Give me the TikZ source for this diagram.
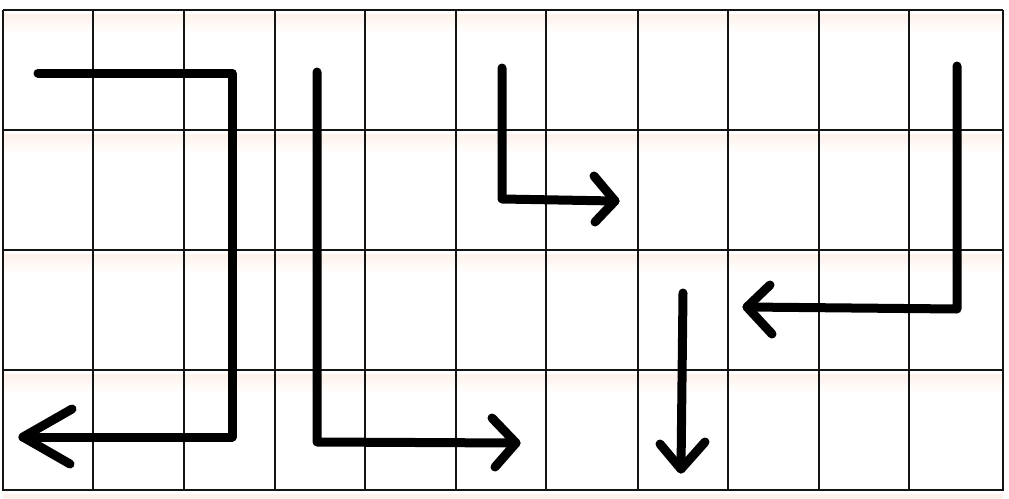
\documentclass[tikz,border=0pt]{standalone}
\usetikzlibrary{calc}
\definecolor{peach}{RGB}{253,236,225}
\definecolor{gridc}{RGB}{20,20,20}
\tikzset{
  gridline/.style={draw=gridc, line width=1.8pt},
  band/.style={fill=peach, draw=none},
  thick arrow/.style={draw=black, line width=9pt, line cap=round, line join=round},
}
\begin{document}
\begin{tikzpicture}[x=1pt,y=-1pt]
\useasboundingbox (0,0) rectangle (1009,498);
\fill[white] (0,0) rectangle (1009,498);
% faint peach bands below horizontal grid lines
\foreach \y in {10,130,250,370,490} {
  \shade[top color=peach, bottom color=white, opacity=0.7] (3,\y+4) rectangle (1003,\y+22);
}
% grid
\foreach \x in {3,93,184,275,365,456,546,638,728,819,909,1003} {
  \draw[gridline] (\x,10) -- (\x,491);
}
\foreach \y in {10,130,250,370,490} {
  \draw[gridline] (3,\y) -- (1003,\y);
}
% arrow 1
\coordinate (a1s) at (38,73);
\coordinate (a1b) at (232,73);
\coordinate (a1c) at (232,437);
\coordinate (a1t) at (23,437);
\draw[thick arrow] (a1s) -- (a1b) -- (a1c) -- (a1t);
\draw[thick arrow] (72,409) -- (a1t) -- (70,464);
% arrow 2
\coordinate (a2s) at (317,72);
\coordinate (a2c) at (317,442);
\coordinate (a2t) at (516,443);
\draw[thick arrow] (a2s) -- (a2c) -- (a2t);
\draw[thick arrow] (492,418) -- (a2t) -- (495,467);
% arrow 3
\coordinate (a3s) at (502,68);
\coordinate (a3c) at (502,199);
\coordinate (a3t) at (615,201);
\draw[thick arrow] (a3s) -- (a3c) -- (a3t);
\draw[thick arrow] (594,176) -- (a3t) -- (595,222);
% arrow 4
\coordinate (a4s) at (957,66);
\coordinate (a4c) at (957,309);
\coordinate (a4t) at (747,307);
\draw[thick arrow] (a4s) -- (a4c) -- (a4t);
\draw[thick arrow] (770,285) -- (a4t) -- (772,334);
% arrow 5
\coordinate (a5s) at (683,293);
\coordinate (a5t) at (681,469);
\draw[thick arrow] (a5s) -- (a5t);
\draw[thick arrow] (660,444) -- (a5t) -- (705,442);
\end{tikzpicture}
\end{document}
